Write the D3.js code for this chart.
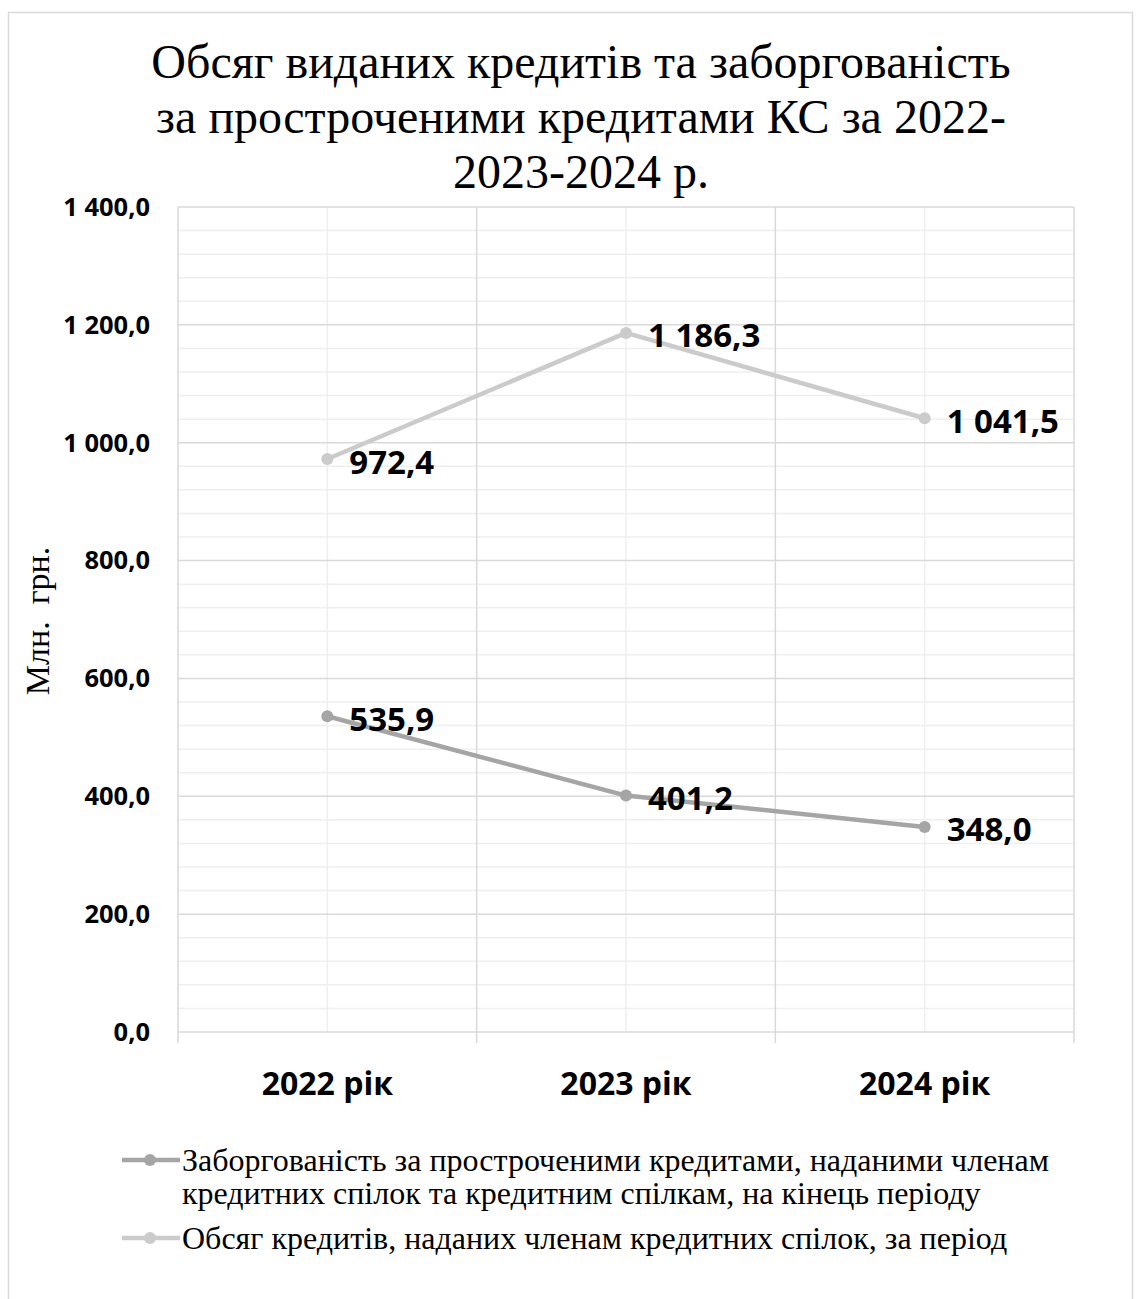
<html>
<head>
	<meta charset="utf-8">
	<script src="https://d3js.org/d3.v7.min.js"></script>
	<style>
		body { margin: 0; background: #fff; }
	</style>
</head>
<body>
	<svg width="1140" height="1299"></svg>
	<script>
		// data
		var years = ["2022 рік", "2023 рік", "2024 рік"];
		var debt = [535.9, 401.2, 348.0];
		var volume = [972.4, 1186.3, 1041.5];
		var yTicks = [0, 200, 400, 600, 800, 1000, 1200, 1400];
		var titleLines = ["Обсяг виданих кредитів та заборгованість",
			"за простроченими кредитами КС за 2022-",
			"2023-2024 р."];
		var legendNames = [
			["Заборгованість за простроченими кредитами, наданими членам",
				"кредитних спілок та кредитним спілкам, на кінець періоду"],
			["Обсяг кредитів, наданих членам кредитних спілок, за період"]
		];
		var seriesColors = ["#a5a5a5", "#cbcbcb"];

		var svg = d3.select("svg");
		var plotLeft = 178, plotRight = 1074, plotTop = 207, plotBottom = 1032;

		var locale = d3.formatLocale({ decimal: ",", thousands: "\u00a0", grouping: [3] });
		var fmt = locale.format(",.1f");

		var x = d3.scaleBand().domain(years).range([plotLeft, plotRight]).padding(0);
		var y = d3.scaleLinear().domain([0, 1400]).range([plotBottom, plotTop]);
		var cx = function (d) { return x(d) + x.bandwidth() / 2; };

		// outer frame
		svg.append("rect")
			.attr("x", 8.5).attr("y", 12.5)
			.attr("width", 1124).attr("height", 1320)
			.attr("fill", "none").attr("stroke", "#d9d9d9").attr("stroke-width", 1.5);

		// minor grid
		var minor = d3.range(0, 1400, 40).filter(function (v) { return v % 200 !== 0; });
		svg.append("g").selectAll("line").data(minor).enter().append("line")
			.attr("x1", plotLeft).attr("x2", plotRight)
			.attr("y1", function (d) { return y(d); }).attr("y2", function (d) { return y(d); })
			.attr("stroke", "#efefef").attr("stroke-width", 1.5);
		svg.append("g").selectAll("line").data(years).enter().append("line")
			.attr("x1", cx).attr("x2", cx)
			.attr("y1", plotTop).attr("y2", plotBottom)
			.attr("stroke", "#efefef").attr("stroke-width", 1.5);

		// major grid
		svg.append("g").selectAll("line").data(yTicks).enter().append("line")
			.attr("x1", plotLeft).attr("x2", plotRight)
			.attr("y1", function (d) { return y(d); }).attr("y2", function (d) { return y(d); })
			.attr("stroke", "#d9d9d9").attr("stroke-width", 1.5);
		var bounds = years.map(function (d) { return x(d); }).concat([plotRight]);
		svg.append("g").selectAll("line").data(bounds).enter().append("line")
			.attr("x1", function (d) { return d; }).attr("x2", function (d) { return d; })
			.attr("y1", plotTop).attr("y2", plotBottom + 11)
			.attr("stroke", "#d9d9d9").attr("stroke-width", 1.5);

		// y tick labels
		svg.append("g").selectAll("text").data(yTicks).enter().append("text")
			.attr("x", 150)
			.attr("y", function (d) { return y(d); })
			.attr("dy", "0.35em")
			.attr("text-anchor", "end")
			.attr("font-family", "Open Sans")
			.attr("font-weight", "bold")
			.attr("font-size", 25.5)
			.attr("fill", "#000")
			.text(function (d) { return fmt(d); });

		// x tick labels
		svg.append("g").selectAll("text").data(years).enter().append("text")
			.attr("x", cx)
			.attr("y", 1095)
			.attr("text-anchor", "middle")
			.attr("font-family", "Open Sans")
			.attr("font-weight", "bold")
			.attr("font-size", 32)
			.attr("fill", "#000")
			.text(function (d) { return d; });

		// title
		svg.append("text")
			.attr("font-family", "Liberation Serif")
			.attr("font-size", 48)
			.attr("text-anchor", "middle")
			.selectAll("tspan").data(titleLines).enter().append("tspan")
			.attr("x", 581)
			.attr("y", function (d, i) { return 78 + i * 55; })
			.text(function (d) { return d; });

		// y axis title
		svg.append("text")
			.attr("transform", "translate(49,621) rotate(-90)")
			.attr("text-anchor", "middle")
			.attr("font-family", "Liberation Serif")
			.attr("font-size", 34)
			.style("white-space", "pre")
			.text("Млн.  грн.");

		// lines
		var line = d3.line()
			.x(function (d, i) { return cx(years[i]); })
			.y(function (d) { return y(d); });

		[debt, volume].forEach(function (s, k) {
			var g = svg.append("g");
			g.append("path")
				.datum(s)
				.attr("d", line)
				.attr("fill", "none")
				.attr("stroke", seriesColors[k])
				.attr("stroke-width", 4.5)
				.attr("stroke-linejoin", "round");
			g.selectAll("circle").data(s).enter().append("circle")
				.attr("cx", function (d, i) { return cx(years[i]); })
				.attr("cy", function (d) { return y(d); })
				.attr("r", 6)
				.attr("fill", seriesColors[k]);
			g.selectAll("text").data(s).enter().append("text")
				.attr("x", function (d, i) { return cx(years[i]) + 22; })
				.attr("y", function (d) { return y(d) + 3; })
				.attr("dy", "0.35em")
				.attr("font-family", "Open Sans")
				.attr("font-weight", "bold")
				.attr("font-size", 33)
				.attr("fill", "#000")
				.text(function (d) { return fmt(d); });
		});

		// legend
		var legendY = [1160, 1238];
		legendNames.forEach(function (lines, k) {
			var g = svg.append("g").attr("transform", "translate(0," + legendY[k] + ")");
			g.append("line")
				.attr("x1", 122).attr("x2", 180)
				.attr("stroke", seriesColors[k]).attr("stroke-width", 4.5);
			g.append("circle").attr("cx", 150).attr("r", 6).attr("fill", seriesColors[k]);
			g.append("text")
				.attr("font-family", "Liberation Serif")
				.attr("font-size", 32)
				.selectAll("tspan").data(lines).enter().append("tspan")
				.attr("x", 182)
				.attr("y", function (d, i) { return 11 + i * 33; })
				.text(function (d) { return d; });
		});
	</script>
</body>
</html>
